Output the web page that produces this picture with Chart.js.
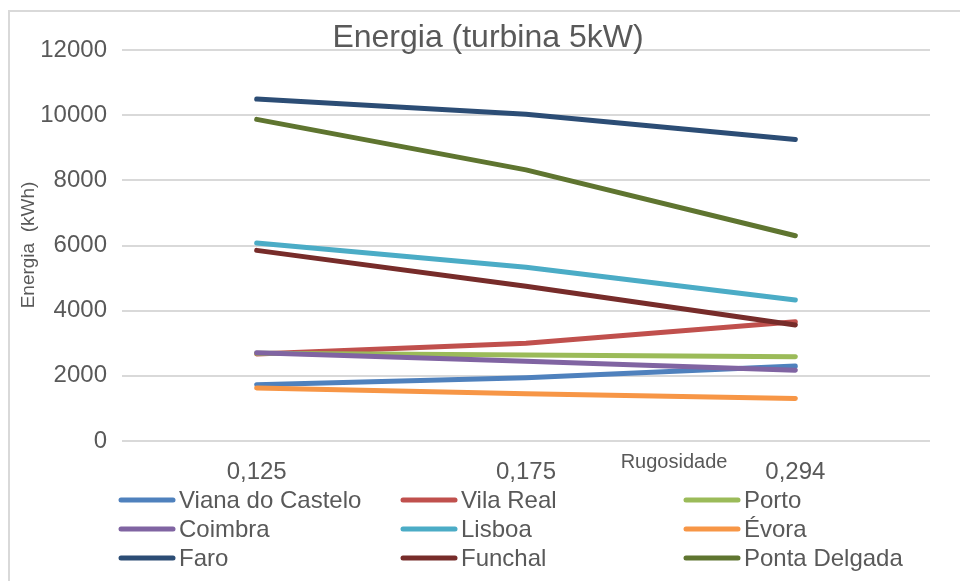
<!DOCTYPE html>
<html>
<head>
<meta charset="utf-8">
<script src="https://cdn.jsdelivr.net/npm/chart.js@4/dist/chart.umd.min.js"></script>
<style>
  html, body { margin: 0; padding: 0; background: #fff; }
  #wrap { position: relative; width: 960px; height: 581px; overflow: hidden; }
  #frame { position: absolute; left: 8px; top: 10px; width: 980px; height: 600px;
           border-left: 2px solid #d9d9d9; border-top: 2px solid #d9d9d9; }
  canvas { position: absolute; left: 0; top: 0; }
</style>
</head>
<body>
<div id="wrap">
  <div id="frame"></div>
  <canvas id="line-chart" width="960" height="581"></canvas>
</div>
<script>
// Energia (turbina 5kW) vs Rugosidade

const categories = ['0,125', '0,175', '0,294'];
const yTicks = [0, 2000, 4000, 6000, 8000, 10000, 12000];

const viana = [1730, 1940, 2300];
const vilaReal = [2670, 3000, 3660];
const porto = [2690, 2640, 2585];
const coimbra = [2710, 2450, 2175];
const lisboa = [6080, 5330, 4330];
const evora = [1630, 1450, 1305];
const faro = [10495, 10030, 9250];
const funchal = [5850, 4750, 3560];
const pontaDelgada = [9870, 8320, 6300];

const seriesNames = ['Viana do Castelo', 'Vila Real', 'Porto', 'Coimbra', 'Lisboa', 'Évora', 'Faro', 'Funchal', 'Ponta Delgada'];
const seriesData = [viana, vilaReal, porto, coimbra, lisboa, evora, faro, funchal, pontaDelgada];
const seriesColors = ['#4F81BD', '#C0504D', '#9BBB59', '#8064A2', '#4BACC6', '#F79646', '#2C4D75', '#772C2A', '#5F7530'];

const textColor = '#595959';
const font = 'Liberation Sans, Arial, sans-serif';

/* title, axis titles and legend drawn straight on the canvas */
const extras = {
  id: 'extras',
  afterDraw(chart) {
    const ctx = chart.ctx;
    ctx.save();
    ctx.fillStyle = textColor;
    // title
    ctx.font = `32px ${font}`;
    ctx.textAlign = 'center';
    ctx.textBaseline = 'alphabetic';
    ctx.fillText('Energia (turbina 5kW)', 488, 47);
    // x axis title
    ctx.font = `20px ${font}`;
    ctx.fillText('Rugosidade', 674, 468);
    // y axis title
    ctx.save();
    ctx.translate(34, 245);
    ctx.rotate(-Math.PI / 2);
    ctx.font = `19px ${font}`;
    ctx.textBaseline = 'alphabetic';
    ctx.fillText('Energia  (kWh)', 0, 0);
    ctx.restore();
    // legend, 3 columns
    const colX = [119, 401, 684];
    const rowY = [500, 529, 558];
    ctx.font = `24px ${font}`;
    ctx.textAlign = 'left';
    ctx.textBaseline = 'middle';
    seriesNames.forEach((name, i) => {
      const x = colX[i % 3], y = rowY[Math.floor(i / 3)];
      ctx.strokeStyle = seriesColors[i];
      ctx.lineWidth = 5;
      ctx.lineCap = 'round';
      ctx.beginPath();
      ctx.moveTo(x + 2, y);
      ctx.lineTo(x + 54, y);
      ctx.stroke();
      ctx.fillText(name, x + 60, y + 1);
    });
    ctx.restore();
  }
};

new Chart(document.getElementById('line-chart'), {
  type: 'line',
  data: {
    labels: categories,
    datasets: seriesNames.map((name, i) => ({
      label: name,
      data: seriesData[i],
      borderColor: seriesColors[i],
      backgroundColor: seriesColors[i],
      borderWidth: 5,
      borderCapStyle: 'round',
      borderJoinStyle: 'round',
      pointRadius: 0,
      tension: 0,
      fill: false,
      order: seriesNames.length - i
    }))
  },
  options: {
    responsive: false,
    animation: false,
    layout: { padding: { left: 0, right: 30, top: 50, bottom: 0 } },
    plugins: {
      legend: { display: false },
      title: { display: false },
      tooltip: { enabled: false }
    },
    scales: {
      x: {
        offset: true,
        grid: { display: false, drawTicks: false },
        border: { display: false },
        ticks: { color: textColor, font: { family: font, size: 24 }, padding: 17, maxRotation: 0 },
        afterFit: s => { s.height = 140; }
      },
      y: {
        min: 0,
        max: 12000,
        afterBuildTicks: s => { s.ticks = yTicks.map(v => ({ value: v })); },
        grid: { color: '#d9d9d9', lineWidth: 2, drawTicks: false },
        border: { display: false },
        ticks: { color: textColor, font: { family: font, size: 24 }, padding: 15, callback: v => String(v) },
        afterFit: s => { s.width = 122; }
      }
    }
  },
  plugins: [extras]
});
</script>
</body>
</html>
